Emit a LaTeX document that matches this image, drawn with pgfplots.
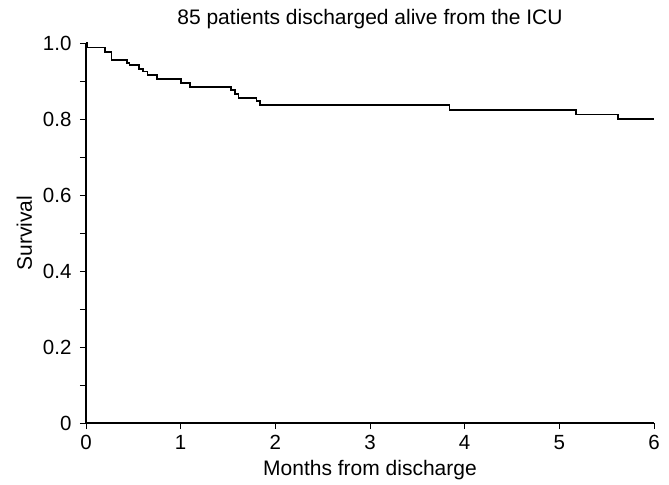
\documentclass[border=0pt]{standalone}
\usepackage{pgfplots}
\pgfplotsset{compat=1.18}
\usepackage{fontspec}
\setmainfont{Liberation Sans}
\begin{document}
\begin{tikzpicture}[font=\fontsize{21bp}{25bp}\selectfont]
\useasboundingbox (-86bp,-62bp) rectangle (583bp,423bp);
\begin{axis}[
  at={(0,0)}, anchor=south west,
  scale only axis, width=568bp, height=380bp,
  xmin=0, xmax=6, ymin=0, ymax=1,
  axis lines=left, axis line style={line width=1.1pt, -},
  xtick={0,1,2,3,4,5,6},
  ytick={0,0.2,0.4,0.6,0.8,1.0},
  yticklabels={0,0.2,0.4,0.6,0.8,1.0},
  minor ytick={0.1,0.3,0.5,0.7,0.9},
  tick align=outside,
  major tick length=6bp, minor tick length=6bp,
  tick style={line width=0.8pt, black},
  /pgf/number format/assume math mode=true,
  every tick label/.append style={font=\fontsize{20.5bp}{24bp}\selectfont},
  xticklabel style={yshift=-3bp},
  yticklabel style={xshift=-5bp},
  label style={font=\fontsize{21bp}{25bp}\selectfont},
  xlabel={Months from discharge},
  ylabel={Survival},
  title={85 patients discharged alive from the ICU},
  title style={at={(0.5,1)}, anchor=south, yshift=5bp, font=\fontsize{21bp}{25bp}\selectfont},
  xlabel style={yshift=-3bp},
  ylabel style={yshift=4bp},
  clip=false,
]
\addplot[const plot, line width=1.8pt, black] coordinates {
(0,1.0)
(0.015,0.988)
(0.20,0.976)
(0.27,0.956)
(0.43,0.947)
(0.46,0.942)
(0.56,0.932)
(0.60,0.925)
(0.65,0.916)
(0.75,0.906)
(1.00,0.894)
(1.10,0.885)
(1.53,0.876)
(1.57,0.866)
(1.61,0.856)
(1.80,0.847)
(1.84,0.836)
(3.84,0.824)
(5.18,0.812)
(5.62,0.800)
(6.00,0.800)
};
\end{axis}
\end{tikzpicture}
\end{document}
